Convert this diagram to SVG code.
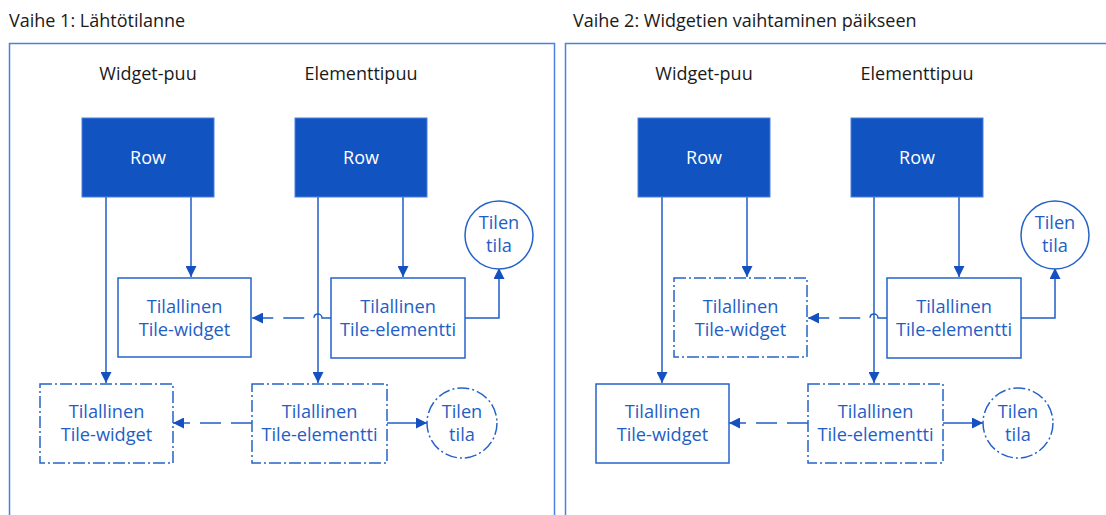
<svg xmlns="http://www.w3.org/2000/svg" width="1106" height="515" viewBox="0 0 1106 515">
  <style>
    .title { font-family: "Open Sans", "Liberation Sans", sans-serif; font-size: 18px; fill: #1a1a1a; }
    .head { font-family: "Open Sans", "Liberation Sans", sans-serif; font-size: 18px; fill: #1a1a1a; text-anchor: middle; }
    .frame { fill: none; stroke: #4a80e0; stroke-width: 1.5; }
    .row { fill: #1153c0; stroke: #4a80e0; stroke-width: 1; }
    .rowtxt { font-family: "Open Sans", "Liberation Sans", sans-serif; font-size: 18px; fill: #ffffff; text-anchor: middle; }
    .box { fill: #ffffff; stroke: #2563c9; stroke-width: 1.5; }
    .dashbox { fill: #ffffff; stroke: #2563c9; stroke-width: 1.5; stroke-dasharray: 12 3 2 3; }
    .lbl { font-family: "Open Sans", "Liberation Sans", sans-serif; font-size: 18.2px; fill: #1f5ec6; text-anchor: middle; }
    .wire { fill: none; stroke: #1f5ec6; stroke-width: 1.5; }
    .dash { fill: none; stroke: #1f5ec6; stroke-width: 1.5; stroke-dasharray: 21 10; }
  </style>
  <defs>
    <marker id="arrowL" viewBox="0 0 10 10" refX="10" refY="5" markerWidth="11" markerHeight="11" markerUnits="userSpaceOnUse" orient="auto">
      <path d="M0 0 L10 5 L0 10 Z" fill="#1550c0"/>
    </marker>
  </defs>

  <!-- Panel titles and frames -->
  <g id="panel1">
    <text class="title" x="9" y="27">Vaihe 1: Lähtötilanne</text>
    <rect class="frame" x="9.5" y="43.5" width="545" height="490"/>
    <text class="head" x="148" y="80">Widget-puu</text>
    <text class="head" x="361" y="80">Elementtipuu</text>
  </g>
  <g id="panel2">
    <text class="title" x="573" y="27">Vaihe 2: Widgetien vaihtaminen päikseen</text>
    <rect class="frame" x="565.5" y="43.5" width="560" height="490"/>
    <text class="head" x="704" y="80">Widget-puu</text>
    <text class="head" x="917" y="80">Elementtipuu</text>
  </g>

  <!-- Connectors -->
  <g id="connectors">
    <!-- Vaihe 1 -->
    <path class="wire" d="M191 197 V277" marker-end="url(#arrowL)"/>
    <path class="wire" d="M106 197 V383" marker-end="url(#arrowL)"/>
    <path class="wire" d="M403 197 V277" marker-end="url(#arrowL)"/>
    <path class="wire" d="M318 197 V383" marker-end="url(#arrowL)"/>
    <path class="dash" d="M331 318 H322 A4 4 0 0 0 314 318 H252" marker-end="url(#arrowL)"/>
    <path class="wire" d="M465 318 H499 V268" marker-end="url(#arrowL)"/>
    <path class="dash" d="M252 423 H173" marker-end="url(#arrowL)"/>
    <path class="wire" d="M387 423 H427" marker-end="url(#arrowL)"/>
    <!-- Vaihe 2 -->
    <path class="wire" d="M747 197 V277" marker-end="url(#arrowL)"/>
    <path class="wire" d="M662 197 V383" marker-end="url(#arrowL)"/>
    <path class="wire" d="M959 197 V277" marker-end="url(#arrowL)"/>
    <path class="wire" d="M874 197 V383" marker-end="url(#arrowL)"/>
    <path class="dash" d="M887 318 H878 A4 4 0 0 0 870 318 H808" marker-end="url(#arrowL)"/>
    <path class="wire" d="M1021 318 H1055 V268" marker-end="url(#arrowL)"/>
    <path class="dash" d="M808 423 H729" marker-end="url(#arrowL)"/>
    <path class="wire" d="M943 423 H983" marker-end="url(#arrowL)"/>
  </g>

  <!-- Vaihe 1 nodes -->
  <g id="p1-row-widget">
    <rect class="row" x="82" y="118" width="132" height="79"/>
    <text class="rowtxt" x="148" y="164">Row</text>
  </g>
  <g id="p1-row-element">
    <rect class="row" x="295" y="118" width="132" height="79"/>
    <text class="rowtxt" x="361" y="164">Row</text>
  </g>
  <g id="p1-tile-widget">
    <rect class="box" x="118" y="278" width="133" height="79"/>
    <text class="lbl" x="184.5" y="313">Tilallinen</text>
    <text class="lbl" x="184.5" y="336">Tile-widget</text>
  </g>
  <g id="p1-tile-element">
    <rect class="box" x="331" y="278" width="134" height="80"/>
    <text class="lbl" x="398" y="313">Tilallinen</text>
    <text class="lbl" x="398" y="336">Tile-elementti</text>
  </g>
  <g id="p1-state">
    <circle class="box" cx="499" cy="235" r="34"/>
    <text class="lbl" x="499" y="229">Tilen</text>
    <text class="lbl" x="499" y="252">tila</text>
  </g>
  <g id="p1-new-tile-widget">
    <rect class="dashbox" x="40" y="384" width="133" height="79"/>
    <text class="lbl" x="106.5" y="418">Tilallinen</text>
    <text class="lbl" x="106.5" y="441">Tile-widget</text>
  </g>
  <g id="p1-new-tile-element">
    <rect class="dashbox" x="252" y="384" width="135" height="79"/>
    <text class="lbl" x="319.5" y="418">Tilallinen</text>
    <text class="lbl" x="319.5" y="441">Tile-elementti</text>
  </g>
  <g id="p1-new-state">
    <circle class="dashbox" cx="462" cy="423" r="35"/>
    <text class="lbl" x="462" y="418">Tilen</text>
    <text class="lbl" x="462" y="441">tila</text>
  </g>

  <!-- Vaihe 2 nodes -->
  <g id="p2-row-widget">
    <rect class="row" x="638" y="118" width="132" height="79"/>
    <text class="rowtxt" x="704" y="164">Row</text>
  </g>
  <g id="p2-row-element">
    <rect class="row" x="851" y="118" width="132" height="79"/>
    <text class="rowtxt" x="917" y="164">Row</text>
  </g>
  <g id="p2-tile-widget">
    <rect class="dashbox" x="674" y="278" width="133" height="79"/>
    <text class="lbl" x="740.5" y="313">Tilallinen</text>
    <text class="lbl" x="740.5" y="336">Tile-widget</text>
  </g>
  <g id="p2-tile-element">
    <rect class="box" x="887" y="278" width="134" height="80"/>
    <text class="lbl" x="954" y="313">Tilallinen</text>
    <text class="lbl" x="954" y="336">Tile-elementti</text>
  </g>
  <g id="p2-state">
    <circle class="box" cx="1055" cy="235" r="34"/>
    <text class="lbl" x="1055" y="229">Tilen</text>
    <text class="lbl" x="1055" y="252">tila</text>
  </g>
  <g id="p2-new-tile-widget">
    <rect class="box" x="596" y="384" width="133" height="79"/>
    <text class="lbl" x="662.5" y="418">Tilallinen</text>
    <text class="lbl" x="662.5" y="441">Tile-widget</text>
  </g>
  <g id="p2-new-tile-element">
    <rect class="dashbox" x="808" y="384" width="135" height="79"/>
    <text class="lbl" x="875.5" y="418">Tilallinen</text>
    <text class="lbl" x="875.5" y="441">Tile-elementti</text>
  </g>
  <g id="p2-new-state">
    <circle class="dashbox" cx="1018" cy="423" r="35"/>
    <text class="lbl" x="1018" y="418">Tilen</text>
    <text class="lbl" x="1018" y="441">tila</text>
  </g>
</svg>
